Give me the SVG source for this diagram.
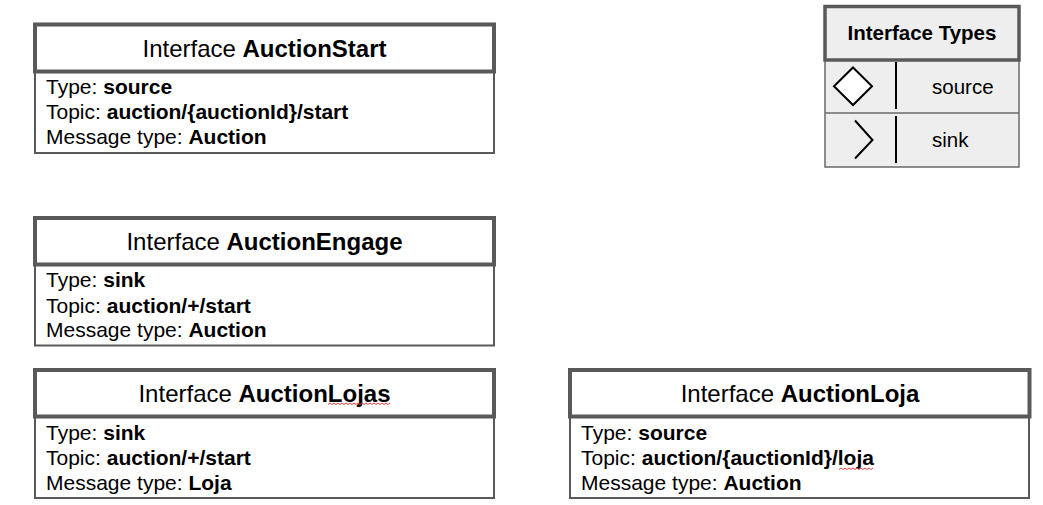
<svg xmlns="http://www.w3.org/2000/svg" width="1043" height="505" viewBox="0 0 1043 505">
<style>
text{font-family:"Liberation Sans",Arial,sans-serif;fill:#000}
.hd{fill:#fff;stroke:#595959;stroke-width:4}
.bd{fill:#fff;stroke:#595959;stroke-width:2}
.lhd{fill:#eeeeee;stroke:#595959;stroke-width:3.5}
.lbd{fill:#eeeeee;stroke:#6a6a6a;stroke-width:1.5}
.ht{font-size:24px;text-anchor:middle}
.bt{font-size:21px}
.lt{font-size:20.5px}
.b{font-weight:bold}
.sq{fill:none;stroke:#e04040;stroke-width:1}
</style>
<rect width="1043" height="505" fill="#fff"/>
<g id="AuctionStart">
<rect class="bd" x="35" y="72" width="459" height="81"/>
<rect class="hd" x="35" y="24.5" width="459" height="47"/>
<text class="ht" x="264.5" y="56.5">Interface <tspan class="b">AuctionStart</tspan></text>
<text class="bt" x="46" y="93.5">Type: <tspan class="b">source</tspan></text>
<text class="bt" x="46" y="119">Topic: <tspan class="b">auction/{auctionId}/start</tspan></text>
<text class="bt" x="46" y="143.5">Message type: <tspan class="b">Auction</tspan></text>
</g>
<g id="AuctionEngage">
<rect class="bd" x="35" y="264.5" width="459" height="81"/>
<rect class="hd" x="35" y="218" width="459" height="46.5"/>
<text class="ht" x="264.5" y="250">Interface <tspan class="b">AuctionEngage</tspan></text>
<text class="bt" x="46" y="287">Type: <tspan class="b">sink</tspan></text>
<text class="bt" x="46" y="312.5">Topic: <tspan class="b">auction/+/start</tspan></text>
<text class="bt" x="46" y="337">Message type: <tspan class="b">Auction</tspan></text>
</g>
<g id="AuctionLojas">
<rect class="bd" x="35" y="416.5" width="459" height="81.5"/>
<rect class="hd" x="35" y="370" width="459" height="46.5"/>
<text class="ht" x="264.5" y="401.5">Interface <tspan class="b">AuctionLojas</tspan></text>
<path class="sq" d="M328 404.5 l2 -1.5 l2 1.5 l2 -1.5 l2 1.5 l2 -1.5 l2 1.5 l2 -1.5 l2 1.5 l2 -1.5 l2 1.5 l2 -1.5 l2 1.5 l2 -1.5 l2 1.5 l2 -1.5 l2 1.5 l2 -1.5 l2 1.5 l2 -1.5 l2 1.5 l2 -1.5 l2 1.5 l2 -1.5 l2 1.5 l2 -1.5 l2 1.5 l2 -1.5 l2 1.5 l2 -1.5 l2 1.5 l2 -1.5"/>
<text class="bt" x="46" y="439.5">Type: <tspan class="b">sink</tspan></text>
<text class="bt" x="46" y="465">Topic: <tspan class="b">auction/+/start</tspan></text>
<text class="bt" x="46" y="489.5">Message type: <tspan class="b">Loja</tspan></text>
</g>
<g id="AuctionLoja">
<rect class="bd" x="570" y="416.5" width="459" height="81.5"/>
<rect class="hd" x="570" y="370" width="459.5" height="46.5"/>
<text class="ht" x="800" y="401.5">Interface <tspan class="b">AuctionLoja</tspan></text>
<text class="bt" x="581" y="439.5">Type: <tspan class="b">source</tspan></text>
<text class="bt" x="581" y="465">Topic: <tspan class="b">auction/{auctionId}/loja</tspan></text>
<path class="sq" d="M839 469.5 l2 -1.5 l2 1.5 l2 -1.5 l2 1.5 l2 -1.5 l2 1.5 l2 -1.5 l2 1.5 l2 -1.5 l2 1.5 l2 -1.5 l2 1.5 l2 -1.5 l2 1.5 l2 -1.5 l2 1.5 l2 -1.5"/>
<text class="bt" x="581" y="489.5">Message type: <tspan class="b">Auction</tspan></text>
</g>
<g id="InterfaceTypes">
<rect class="lbd" x="825" y="60" width="194" height="107"/>
<line x1="825" y1="113" x2="1019" y2="113" stroke="#6a6a6a" stroke-width="1.5"/>
<rect class="lhd" x="825" y="6.5" width="194" height="53.5"/>
<text class="lt b" x="922" y="40" text-anchor="middle">Interface Types</text>
<polygon points="853,67.5 872,86.3 853,105 834,86.3" fill="#fff" stroke="#000" stroke-width="2"/>
<line x1="896" y1="62" x2="896" y2="109" stroke="#000" stroke-width="2"/>
<text class="lt" x="932" y="93.5">source</text>
<polyline points="855,120.5 872.5,140 855,158.5" fill="none" stroke="#000" stroke-width="2"/>
<line x1="896" y1="116" x2="896" y2="163" stroke="#000" stroke-width="2"/>
<text class="lt" x="932" y="146.5">sink</text>
</g>
<g id="connectors"></g>
</svg>
